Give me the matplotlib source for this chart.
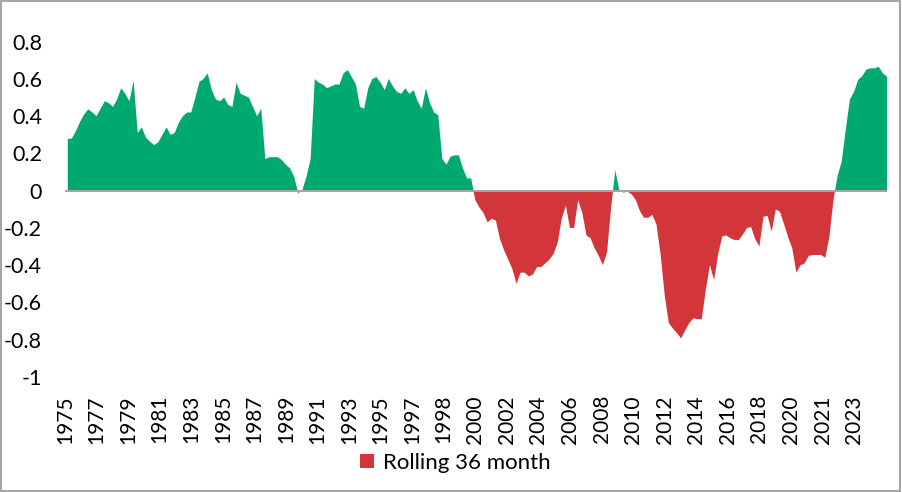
import numpy as np
import pandas as pd
import matplotlib
matplotlib.use("Agg")
import matplotlib.pyplot as plt
from matplotlib.patches import Rectangle, Patch

plt.rcParams['font.family'] = ['Lato', 'DejaVu Sans']

# Quarterly readings of the rolling 36-month series, starting Dec 1975
start_month = "1975-12"
rolling_36m = [
    0.278, 0.28, 0.32, 0.37, 0.41, 0.437, 0.42, 0.40, 0.44, 0.48,
    0.47, 0.45, 0.49, 0.55, 0.52, 0.48, 0.59, 0.31, 0.34, 0.285,
    0.263, 0.245, 0.26, 0.30, 0.34, 0.30, 0.31, 0.365, 0.40, 0.42,
    0.42, 0.50, 0.585, 0.60, 0.63, 0.54, 0.49, 0.48, 0.50, 0.46,
    0.45, 0.58, 0.52, 0.51, 0.50, 0.45, 0.40, 0.44, 0.17, 0.18,
    0.18, 0.18, 0.165, 0.14, 0.12, 0.075, -0.014, 0.005, 0.075, 0.17,
    0.60, 0.58, 0.57, 0.55, 0.56, 0.57, 0.57, 0.63, 0.648, 0.61,
    0.57, 0.45, 0.44, 0.55, 0.60, 0.61, 0.58, 0.54, 0.60, 0.56,
    0.53, 0.52, 0.55, 0.52, 0.54, 0.48, 0.44, 0.55, 0.47, 0.42,
    0.405, 0.17, 0.14, 0.183, 0.19, 0.19, 0.12, 0.066, 0.066, -0.05,
    -0.09, -0.12, -0.17, -0.15, -0.16, -0.26, -0.32, -0.37, -0.42, -0.50,
    -0.44, -0.44, -0.46, -0.45, -0.41, -0.41, -0.39, -0.37, -0.34, -0.28,
    -0.15, -0.08, -0.20, -0.20, -0.05, -0.12, -0.24, -0.255, -0.31, -0.35,
    -0.40, -0.33, -0.09, 0.11, 0.0, -0.01, -0.005, -0.02, -0.05, -0.11,
    -0.145, -0.145, -0.13, -0.18, -0.34, -0.56, -0.71, -0.74, -0.765, -0.793,
    -0.75, -0.71, -0.685, -0.69, -0.69, -0.53, -0.40, -0.48, -0.34, -0.245,
    -0.24, -0.255, -0.265, -0.265, -0.235, -0.20, -0.195, -0.26, -0.30, -0.14,
    -0.135, -0.22, -0.10, -0.113, -0.18, -0.25, -0.31, -0.44, -0.40, -0.39,
    -0.35, -0.345, -0.345, -0.345, -0.36, -0.25, -0.05, 0.08, 0.156, 0.33,
    0.49, 0.53, 0.595, 0.615, 0.65, 0.657, 0.657, 0.665, 0.63, 0.612,
]
tick_labels = ['1975', '1977', '1979', '1981', '1983', '1985', '1987', '1989',
               '1991', '1993', '1995', '1997', '1998', '2000', '2002', '2004',
               '2006', '2008', '2010', '2012', '2014', '2016', '2018', '2020',
               '2021', '2023']
yticks = [0.8, 0.6, 0.4, 0.2, 0, -0.2, -0.4, -0.6, -0.8, -1]
legend_label = "Rolling 36 month"

GREEN = '#00A96D'
RED = '#D2353A'

dates = pd.period_range(start_month, periods=len(rolling_36m), freq='3M')
start = pd.Period(start_month, freq='M')
x = np.array([(d.asfreq('M') - start).n for d in dates], dtype=float)
y = np.array(rolling_36m)

W, H = 902, 492
fig = plt.figure(figsize=(W / 100, H / 100), dpi=100)
left, right = 65 / W, 887 / W
top, bottom = 1 - 41.7 / H, 1 - 377 / H
ax = fig.add_axes([left, bottom, right - left, top - bottom])

ax.fill_between(x, y, 0, where=y < 0, interpolate=True, color=RED, lw=0)
ax.fill_between(x, y, 0, where=y >= 0, interpolate=True, color=GREEN, lw=0)
ax.axhline(0, color='#A6A6A6', lw=1.5, zorder=3)

ax.set_xlim(x[0], x[-1])
ax.set_ylim(-1, 0.8)
for s in ax.spines.values():
    s.set_visible(False)

ax.set_yticks(yticks)
ax.set_yticklabels([f"{v:g}" for v in yticks])
interval = 23
ax.set_xticks(np.arange(len(tick_labels)) * interval)
ax.set_xticklabels(tick_labels, rotation=90)
ax.tick_params(axis='y', length=0, pad=16.5, labelsize=15.5, labelcolor='black')
ax.tick_params(axis='x', length=0, pad=13, labelsize=15, labelcolor='black')

fig.legend(handles=[Patch(facecolor=RED, edgecolor='none', label=legend_label)],
           loc='center', bbox_to_anchor=(0.505, 1 - 463 / H), frameon=False,
           fontsize=16, handlelength=0.62, handleheight=0.62, handletextpad=0.4)

fig.patches.append(Rectangle((0.001, 0.002), 0.997, 0.996, transform=fig.transFigure,
                             fill=False, edgecolor='#A6A6A6', lw=1.5))

fig.savefig('out.png', dpi=100)
